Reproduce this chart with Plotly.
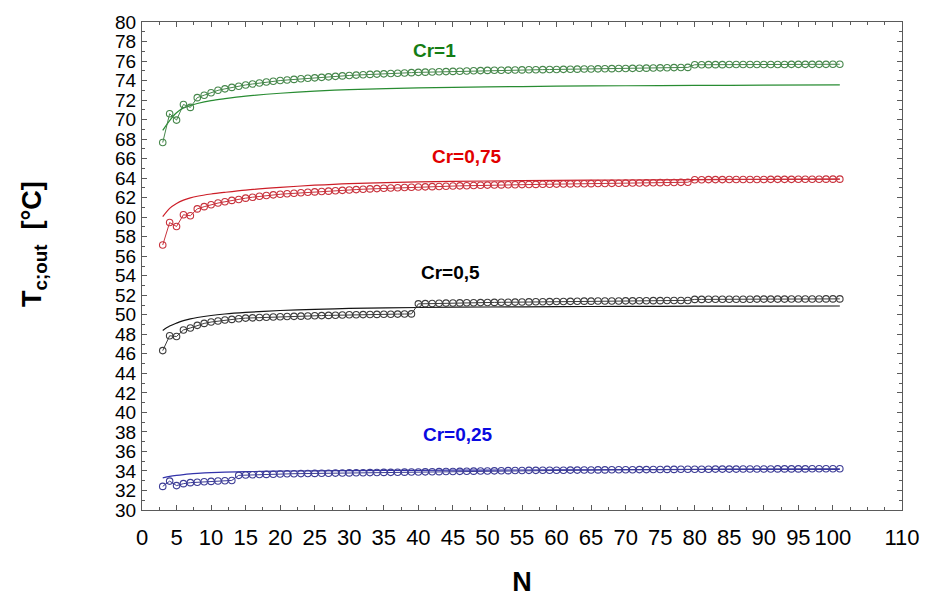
import plotly.graph_objects as go

# Number of units N (simulated points)
N = list(range(3, 102))

# Outlet temperature T_c;out [°C], simulated points, one value per N
t_cr1 = [
    67.65, 70.60, 69.95, 71.55, 71.25, 72.25, 72.50, 72.75, 73.00, 73.15,
    73.30, 73.42, 73.55, 73.65, 73.75, 73.85, 73.93, 74.00, 74.06, 74.12,
    74.18, 74.23, 74.28, 74.33, 74.38, 74.43, 74.48, 74.52, 74.56, 74.60,
    74.63, 74.66, 74.69, 74.72, 74.75, 74.78, 74.81, 74.84, 74.86, 74.88,
    74.90, 74.92, 74.94, 74.96, 74.98, 75.00, 75.02, 75.04, 75.05, 75.06,
    75.07, 75.08, 75.09, 75.10, 75.11, 75.12, 75.13, 75.14, 75.15, 75.16,
    75.17, 75.18, 75.19, 75.20, 75.21, 75.22, 75.23, 75.24, 75.25, 75.26,
    75.27, 75.28, 75.30, 75.31, 75.33, 75.34, 75.35, 75.62, 75.62, 75.63,
    75.63, 75.63, 75.64, 75.64, 75.64, 75.64, 75.65, 75.65, 75.65, 75.65,
    75.65, 75.66, 75.66, 75.66, 75.66, 75.66, 75.66, 75.67, 75.67,
]
t_cr075 = [
    57.15, 59.45, 59.05, 60.25, 60.15, 60.85, 61.08, 61.28, 61.45, 61.58,
    61.72, 61.82, 61.95, 62.05, 62.14, 62.22, 62.29, 62.35, 62.40, 62.45,
    62.50, 62.55, 62.59, 62.63, 62.67, 62.71, 62.75, 62.79, 62.83, 62.87,
    62.90, 62.93, 62.96, 62.99, 63.02, 63.05, 63.07, 63.09, 63.11, 63.13,
    63.15, 63.17, 63.19, 63.21, 63.23, 63.25, 63.27, 63.29, 63.30, 63.31,
    63.32, 63.33, 63.34, 63.35, 63.36, 63.37, 63.38, 63.39, 63.40, 63.41,
    63.42, 63.43, 63.44, 63.45, 63.46, 63.47, 63.48, 63.49, 63.50, 63.51,
    63.52, 63.53, 63.54, 63.55, 63.56, 63.57, 63.58, 63.84, 63.84, 63.85,
    63.85, 63.85, 63.86, 63.86, 63.86, 63.87, 63.87, 63.87, 63.88, 63.88,
    63.88, 63.88, 63.89, 63.89, 63.89, 63.89, 63.90, 63.90, 63.90,
]
t_cr05 = [
    46.33, 47.85, 47.78, 48.45, 48.65, 48.92, 49.12, 49.26, 49.36, 49.46,
    49.53, 49.60, 49.66, 49.69, 49.72, 49.75, 49.78, 49.80, 49.82, 49.84,
    49.86, 49.88, 49.90, 49.92, 49.94, 49.96, 49.98, 50.00, 50.01, 50.02,
    50.03, 50.04, 50.05, 50.06, 50.07, 50.08, 50.09, 51.12, 51.14, 51.16,
    51.18, 51.20, 51.21, 51.22, 51.23, 51.24, 51.25, 51.26, 51.27, 51.28,
    51.29, 51.30, 51.31, 51.32, 51.33, 51.34, 51.35, 51.36, 51.37, 51.38,
    51.39, 51.40, 51.40, 51.41, 51.41, 51.42, 51.42, 51.43, 51.43, 51.44,
    51.44, 51.45, 51.45, 51.46, 51.46, 51.47, 51.47, 51.58, 51.58, 51.59,
    51.59, 51.59, 51.60, 51.60, 51.60, 51.60, 51.61, 51.61, 51.61, 51.61,
    51.61, 51.62, 51.62, 51.62, 51.62, 51.62, 51.63, 51.63, 51.63,
]
t_cr025 = [
    32.42, 32.96, 32.50, 32.70, 32.80, 32.85, 32.90, 32.93, 32.97, 33.00,
    33.03, 33.55, 33.58, 33.61, 33.63, 33.65, 33.67, 33.69, 33.71, 33.72,
    33.73, 33.74, 33.75, 33.76, 33.77, 33.78, 33.79, 33.80, 33.81, 33.82,
    33.83, 33.84, 33.85, 33.86, 33.87, 33.88, 33.89, 33.90, 33.91, 33.92,
    33.93, 33.94, 33.95, 33.96, 33.97, 33.98, 33.99, 34.00, 34.01, 34.02,
    34.03, 34.04, 34.05, 34.06, 34.06, 34.07, 34.07, 34.08, 34.08, 34.09,
    34.09, 34.10, 34.10, 34.11, 34.11, 34.12, 34.12, 34.13, 34.13, 34.14,
    34.14, 34.15, 34.15, 34.16, 34.16, 34.17, 34.17, 34.18, 34.18, 34.18,
    34.19, 34.19, 34.19, 34.19, 34.20, 34.20, 34.20, 34.20, 34.20, 34.21,
    34.21, 34.21, 34.21, 34.21, 34.22, 34.22, 34.22, 34.22, 34.22,
]

# Model curves, sampled at selected N
N_model = [3, 4, 5, 6, 7, 8, 10, 12, 15, 20, 25, 30, 40, 50, 60, 70, 80, 90, 101]
m_cr1 = [68.90, 69.90, 70.70, 71.20, 71.45, 71.65, 71.95, 72.15, 72.40, 72.70,
         72.92, 73.07, 73.25, 73.35, 73.42, 73.47, 73.50, 73.53, 73.55]
m_cr075 = [60.05, 60.90, 61.40, 61.75, 61.98, 62.15, 62.38, 62.55, 62.78, 63.05,
           63.28, 63.45, 63.62, 63.71, 63.77, 63.81, 63.85, 63.88, 63.90]
m_cr05 = [48.40, 48.85, 49.15, 49.40, 49.58, 49.72, 49.93, 50.08, 50.24, 50.44,
          50.56, 50.65, 50.75, 50.80, 50.84, 50.86, 50.88, 50.89, 50.90]
m_cr025 = [33.30, 33.45, 33.55, 33.63, 33.70, 33.75, 33.83, 33.88, 33.93, 33.98,
           34.01, 34.04, 34.07, 34.09, 34.11, 34.13, 34.15, 34.16, 34.17]

series = [
    ("Cr=1", t_cr1, m_cr1, "rgb(70,135,75)", "rgb(40,140,50)", "rgb(20,125,20)", 42.3, 77.1),
    ("Cr=0,75", t_cr075, m_cr075, "rgb(200,50,60)", "rgb(205,30,40)", "rgb(225,0,0)", 47.0, 66.2),
    ("Cr=0,5", t_cr05, m_cr05, "rgb(60,60,60)", "rgb(20,20,20)", "rgb(0,0,0)", 44.7, 54.3),
    ("Cr=0,25", t_cr025, m_cr025, "rgb(60,60,150)", "rgb(50,50,170)", "rgb(10,10,225)", 45.7, 37.7),
]

FONT = "Arial, Liberation Sans, sans-serif"

fig = go.Figure()
for name, pts, model, mcol, lcol, tcol, lx, ly in series:
    fig.add_trace(go.Scatter(
        x=N_model, y=model, mode="lines", name=name + " model",
        line=dict(color=lcol, width=1.2, shape="spline", smoothing=0.8),
        showlegend=False,
    ))
    fig.add_trace(go.Scatter(
        x=N, y=pts, mode="lines+markers", name=name,
        line=dict(color=mcol, width=1),
        marker=dict(symbol="circle-open", size=6.5, color=mcol, line=dict(width=1.1, color=mcol)),
        showlegend=False,
    ))
    fig.add_annotation(
        x=lx, y=ly, xref="x", yref="y", text="<b>%s</b>" % name, showarrow=False,
        font=dict(family=FONT, size=19, color=tcol),
    )

x_ticks = list(range(0, 101, 5)) + [110]
y_ticks = list(range(30, 81, 2))

fig.add_annotation(
    x=-0.142, y=0.545, xref="paper", yref="paper", xanchor="center", yanchor="middle",
    textangle=-90, text="<b>T<sub>c;out</sub>  [°C]</b>", showarrow=False,
    font=dict(family=FONT, size=27, color="black"),
)

fig.update_layout(
    width=932, height=603,
    margin=dict(l=142, r=22, t=21, b=87),
    paper_bgcolor="white", plot_bgcolor="white",
    font=dict(family=FONT, color="black"),
    xaxis=dict(
        range=[0, 110], tickvals=x_ticks, ticktext=[str(v) for v in x_ticks],
        ticks="inside", ticklen=5, tickcolor="rgb(90,90,90)",
        minor=dict(dtick=2.5, tick0=0, ticks="inside", ticklen=3, tickcolor="rgb(90,90,90)"),
        showline=True, linecolor="rgb(90,90,90)", linewidth=1, mirror="allticks",
        showgrid=False, zeroline=False,
        tickfont=dict(family=FONT, size=22, color="black"),
        ticklabelstandoff=8,
        title=dict(text="<b>N</b>", font=dict(family=FONT, size=27), standoff=22),
    ),
    yaxis=dict(
        range=[30, 80], tickvals=y_ticks,
        ticks="inside", ticklen=5, tickcolor="rgb(90,90,90)",
        minor=dict(dtick=1, tick0=30, ticks="inside", ticklen=3, tickcolor="rgb(90,90,90)"),
        showline=True, linecolor="rgb(90,90,90)", linewidth=1, mirror="allticks",
        showgrid=False, zeroline=False,
        tickfont=dict(family=FONT, size=19, color="black"),
        ticklabelstandoff=1,
    ),
)

fig.write_html("out.html")
